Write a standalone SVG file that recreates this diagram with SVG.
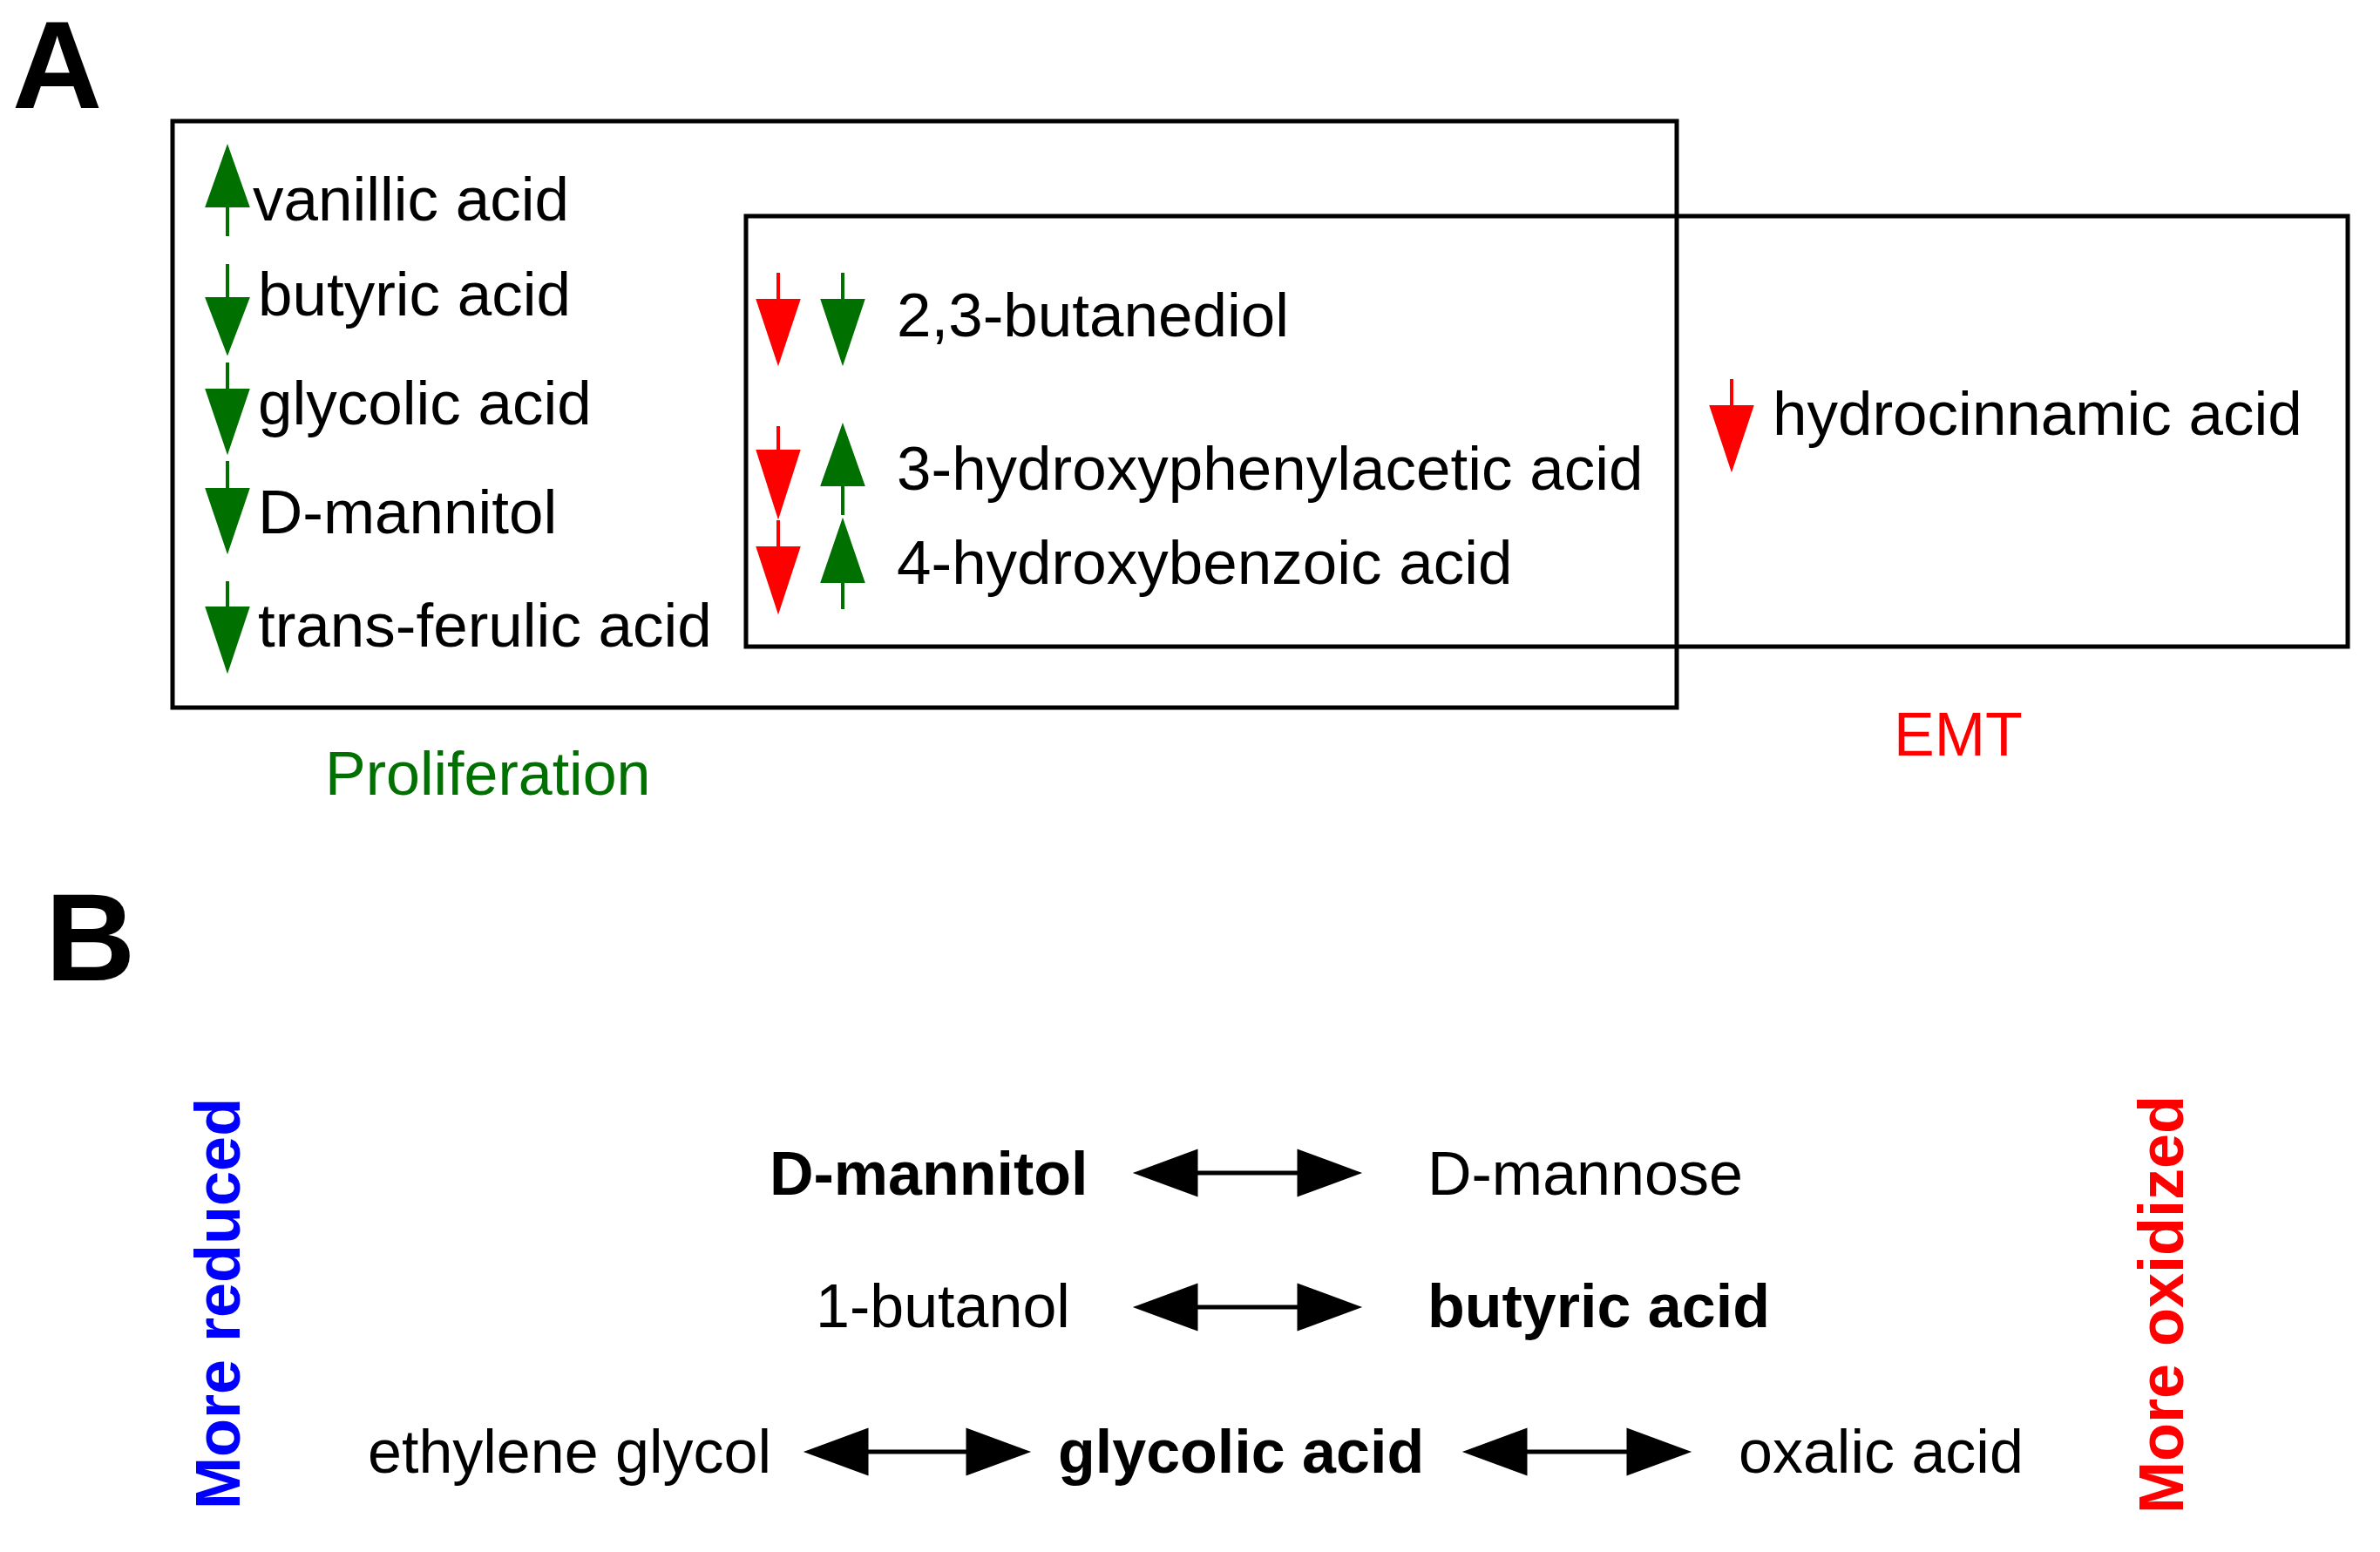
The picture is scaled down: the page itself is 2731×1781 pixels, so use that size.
<svg xmlns="http://www.w3.org/2000/svg" width="2731" height="1781" viewBox="0 0 2731 1781">
<style>
text{font-family:"Liberation Sans",Arial,sans-serif}
.t{font-size:71px;fill:#000}
.b{font-size:70px;fill:#000}
.bb{font-size:70px;font-weight:bold;fill:#000}
.L{font-size:143px;font-weight:bold}
.box{fill:none;stroke:#000;stroke-width:5}
.g{stroke:#007000;fill:#007000;stroke-width:4}
.r{stroke:#ff0000;fill:#ff0000;stroke-width:4}
.k{stroke:#000;fill:#000;stroke-width:5}
</style>
<rect width="2731" height="1781" fill="#fff"/>
<text class="L" x="14" y="124">A</text>
<text class="L" x="52" y="1125">B</text>
<g id="proliferation"><rect class="box" x="198" y="139" width="1726" height="673"/>
<text x="373" y="912" style="font-size:70px;fill:#007000">Proliferation</text></g>
<g id="emt"><rect class="box" x="856" y="248" width="1838" height="494"/>
<text x="2173" y="867" style="font-size:70px;fill:#ff0000">EMT</text></g>
<g id="arrows">
<g class="g"><line x1="261" y1="220" x2="261" y2="271"/><polygon points="261,171 238,236 284,236"/></g>
<g class="g"><line x1="261" y1="303" x2="261" y2="350"/><polygon points="261,403 238,343 284,343"/></g>
<g class="g"><line x1="261" y1="416" x2="261" y2="460"/><polygon points="261,516 238,448 284,448"/></g>
<g class="g"><line x1="261" y1="529" x2="261" y2="570"/><polygon points="261,630 238,562 284,562"/></g>
<g class="g"><line x1="261" y1="667" x2="261" y2="705"/><polygon points="261,767 238,698 284,698"/></g>
<g class="r"><line x1="893" y1="313" x2="893" y2="350"/><polygon points="893,414 870,345 916,345"/></g>
<g class="g"><line x1="967" y1="313" x2="967" y2="350"/><polygon points="967,414 944,345 990,345"/></g>
<g class="r"><line x1="893" y1="489" x2="893" y2="525"/><polygon points="893,590 870,518 916,518"/></g>
<g class="g"><line x1="967" y1="545" x2="967" y2="591"/><polygon points="967,491 944,556 990,556"/></g>
<g class="r"><line x1="893" y1="597" x2="893" y2="635"/><polygon points="893,699 870,629 916,629"/></g>
<g class="g"><line x1="967" y1="655" x2="967" y2="699"/><polygon points="967,600 944,667 990,667"/></g>
<g class="r"><line x1="1987" y1="435" x2="1987" y2="475"/><polygon points="1987,536 1964,467 2010,467"/></g>
</g>
<g id="labelsA">
<text class="t" x="290" y="253">vanillic acid</text>
<text class="t" x="296" y="362">butyric acid</text>
<text class="t" x="296" y="487">glycolic acid</text>
<text class="t" x="296" y="612">D-mannitol</text>
<text class="t" x="296" y="742">trans-ferulic acid</text>
<text class="t" x="1029" y="386">2,3-butanediol</text>
<text class="t" x="1029" y="562">3-hydroxyphenylacetic acid</text>
<text class="t" x="1029" y="670">4-hydroxybenzoic acid</text>
<text class="t" x="2034" y="499">hydrocinnamic acid</text>
</g>
<g id="axis">
<text transform="translate(275,1732) rotate(-90)" style="font-size:72px;font-weight:bold;fill:#0000ff">More reduced</text>
<text transform="translate(2505,1737) rotate(-90)" style="font-size:72px;font-weight:bold;fill:#ff0000">More oxidized</text>
</g>
<g id="nodesB">
<g id="n1"><text class="bb" x="883" y="1371">D-mannitol</text></g>
<g id="n2"><text class="b" x="1638" y="1371">D-mannose</text></g>
<g id="n3"><text class="b" x="936" y="1523">1-butanol</text></g>
<g id="n4"><text class="bb" x="1638" y="1523">butyric acid</text></g>
<g id="n5"><text class="b" x="422" y="1690">ethylene glycol</text></g>
<g id="n6"><text class="bb" x="1214" y="1690">glycolic acid</text></g>
<g id="n7"><text class="b" x="1995" y="1690">oxalic acid</text></g>
</g>
<g id="connectors" class="k">
<line x1="1360" y1="1346" x2="1500" y2="1346"/><polygon points="1307,1346 1372,1322 1372,1370"/><polygon points="1556,1346 1491,1322 1491,1370"/>
<line x1="1360" y1="1500" x2="1500" y2="1500"/><polygon points="1307,1500 1372,1476 1372,1524"/><polygon points="1556,1500 1491,1476 1491,1524"/>
<line x1="980" y1="1666" x2="1120" y2="1666"/><polygon points="929,1666 994,1642 994,1690"/><polygon points="1176,1666 1111,1642 1111,1690"/>
<line x1="1740" y1="1666" x2="1880" y2="1666"/><polygon points="1685,1666 1750,1642 1750,1690"/><polygon points="1934,1666 1869,1642 1869,1690"/>
</g>
</svg>
